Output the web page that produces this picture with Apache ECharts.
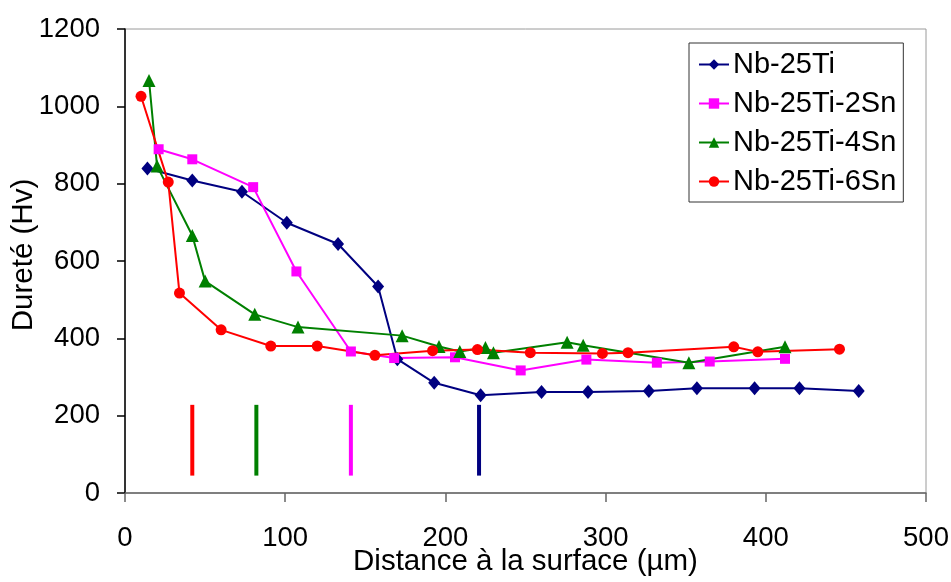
<!DOCTYPE html>
<html>
<head>
<meta charset="utf-8">
<script src="https://cdn.jsdelivr.net/npm/echarts@6/dist/echarts.min.js"></script>
<style>
html,body{margin:0;padding:0;background:#fff;}
#c{width:951px;height:582px;}
</style>
</head>
<body>
<div id="c"></div>
<script>
// ---- data ----
const seriesNames = ['Nb-25Ti', 'Nb-25Ti-2Sn', 'Nb-25Ti-4Sn', 'Nb-25Ti-6Sn'];

const nbX = [14, 42, 73, 101, 133, 158, 170, 193, 222, 260, 289, 327, 357, 393, 421, 458];
const nbY = [839, 808, 779, 699, 644, 534, 346, 285, 253, 261, 261, 264, 271, 271, 271, 264];

const sn2X = [21, 42, 80, 107, 141, 168, 206, 247, 288, 332, 365, 412];
const sn2Y = [889, 863, 791, 573, 366, 349, 351, 317, 345, 337, 340, 347];

const sn4X = [15, 20, 42, 50, 81, 108, 173, 196, 209, 225, 230, 276, 286, 352, 412];
const sn4Y = [1067, 846, 666, 548, 462, 429, 407, 379, 366, 376, 363, 390, 382, 337, 378];

const sn6X = [10, 27, 34, 60, 91, 120, 156, 192, 220, 253, 298, 314, 380, 395, 446];
const sn6Y = [1026, 804, 517, 422, 380, 380, 356, 368, 371, 363, 361, 363, 378, 365, 372];

// vertical depth markers (x position per alloy)
const markerX = [42, 82, 141, 221];
const markerY = [45, 228];

const xTicks = [0, 100, 200, 300, 400, 500];
const yTicks = [0, 200, 400, 600, 800, 1000, 1200];

// ---- styles ----
const colors = ['#000080', '#FF00FF', '#008000', '#FF0000'];
const markerColors = ['#FF0000', '#008000', '#FF00FF', '#000080'];
const symbols = ['diamond', 'rect', 'triangle', 'circle'];
const symbolSizes = [[12, 14], 10, 13, 11];
const FONT = 'Arial, "Liberation Sans", sans-serif';

const zip = (xs, ys) => xs.map((x, i) => [x, ys[i]]);
const allX = [nbX, sn2X, sn4X, sn6X];
const allY = [nbY, sn2Y, sn4Y, sn6Y];

const series = seriesNames.map((name, i) => ({
  name: name,
  type: 'line',
  data: zip(allX[i], allY[i]),
  symbol: symbols[i],
  symbolSize: symbolSizes[i],
  showSymbol: true,
  lineStyle: { color: colors[i], width: 2 },
  itemStyle: { color: colors[i] },
  emphasis: { disabled: true },
  z: 3
}));

markerX.forEach((mx, i) => {
  series.push({
    name: 'marker' + i,
    type: 'line',
    data: markerY.map(y => [mx, y]),
    symbol: 'none',
    lineStyle: { color: markerColors[i], width: 4 },
    silent: true,
    z: 2
  });
});

const chart = echarts.init(document.getElementById('c'), null, { renderer: 'canvas' });
chart.setOption({
  animation: false,
  backgroundColor: '#fff',
  textStyle: { fontFamily: FONT },
  grid: {
    left: 125, right: 25, top: 29, bottom: 89,
    containLabel: false,
    outerBoundsMode: 'none',
    show: true, borderColor: '#9a9a9a', borderWidth: 1, backgroundColor: 'transparent'
  },
  legend: {
    data: seriesNames,
    orient: 'vertical',
    left: 689, top: 43,
    padding: [5, 7, 4, 9],
    itemGap: 6,
    itemWidth: 30, itemHeight: 13,
    backgroundColor: '#fff',
    borderColor: '#333', borderWidth: 1,
    textStyle: { fontFamily: FONT, fontSize: 29, color: '#000', lineHeight: 33, padding: [0, 0, 0, -1] }
  },
  xAxis: {
    type: 'value',
    min: xTicks[0], max: xTicks[xTicks.length - 1], interval: 100,
    name: 'Distance à la surface (µm)',
    nameLocation: 'middle', nameGap: 54, nameMoveOverlap: false,
    nameTextStyle: { fontFamily: FONT, fontSize: 29.5, color: '#000' },
    axisLine: { show: true, lineStyle: { color: '#666', width: 1.5 } },
    axisTick: { show: true, inside: false, length: 9, lineStyle: { color: '#666', width: 1.5 } },
    axisLabel: { fontFamily: FONT, fontSize: 27.5, color: '#000', margin: 31, formatter: v => String(v) },
    splitLine: { show: false }
  },
  yAxis: {
    type: 'value',
    min: yTicks[0], max: yTicks[yTicks.length - 1], interval: 200,
    name: 'Dureté (Hv)',
    nameLocation: 'middle', nameGap: 86, nameRotate: 90, nameMoveOverlap: false,
    nameTextStyle: { fontFamily: FONT, fontSize: 29.5, color: '#000', padding: [0, 0, 0, 12] },
    axisLine: { show: true, lineStyle: { color: '#000', width: 1.5 } },
    axisTick: { show: true, inside: false, length: 8, lineStyle: { color: '#000', width: 1.5 } },
    axisLabel: { fontFamily: FONT, fontSize: 27.5, color: '#000', margin: 25, formatter: v => String(v) },
    splitLine: { show: false }
  },
  series: series
});
</script>
</body>
</html>
